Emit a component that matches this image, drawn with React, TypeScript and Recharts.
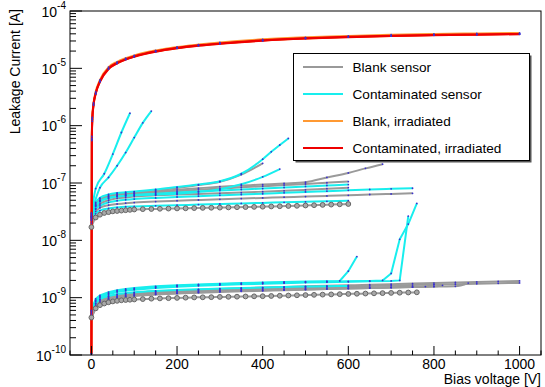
import React from "react";
import { LineChart, Line, XAxis, YAxis } from "recharts";

const FONT = '"Liberation Sans", Arial, Helvetica, sans-serif';

// ---- axis ticks ----
const xTicks = [-50, 0, 50, 100, 150, 200, 250, 300, 350, 400, 450, 500, 550, 600, 650, 700, 750, 800, 850, 900, 950, 1000, 1050];
const yDecades = [1e-10, 1e-9, 1e-8, 1e-7, 1e-6, 1e-5, 1e-4];
const yMinorMult = [2, 3, 4, 5, 6, 7, 8, 9];

// ---- legend ----
const legendLabels = ["Blank sensor", "Contaminated sensor", "Blank, irradiated", "Contaminated, irradiated"];
const legendColors = ["#999999", "#18eeee", "#ff9933", "#ee0000"];

// ---- irradiated sensors ----
const vIrr = [0, 1, 2, 5, 10, 20, 40, 60, 80, 100, 150, 200, 250, 300, 400, 500, 600, 700, 800, 900, 1000];
const iBlankIrr1 = [1.05e-10, 6.5e-7, 1.4e-6, 2.5e-6, 3.9e-6, 6.3e-6, 1.05e-5, 1.3e-5, 1.5e-5, 1.68e-5, 2.05e-5, 2.36e-5, 2.6e-5, 2.82e-5, 3.2e-5, 3.48e-5, 3.68e-5, 3.85e-5, 3.97e-5, 4.07e-5, 4.15e-5];
const iBlankIrr2 = [1.05e-10, 5.8e-7, 1.3e-6, 2.3e-6, 3.6e-6, 5.9e-6, 9.8e-6, 1.22e-5, 1.43e-5, 1.6e-5, 1.96e-5, 2.25e-5, 2.5e-5, 2.7e-5, 3.06e-5, 3.32e-5, 3.52e-5, 3.68e-5, 3.8e-5, 3.9e-5, 3.98e-5];
const iContIrr1 = [1.05e-10, 6e-7, 1.3e-6, 2.4e-6, 3.7e-6, 6.0e-6, 1.0e-5, 1.25e-5, 1.45e-5, 1.62e-5, 1.98e-5, 2.28e-5, 2.52e-5, 2.72e-5, 3.08e-5, 3.35e-5, 3.55e-5, 3.7e-5, 3.82e-5, 3.9e-5, 3.97e-5];
const iContIrr2 = [1.05e-10, 5.5e-7, 1.2e-6, 2.3e-6, 3.6e-6, 5.8e-6, 9.7e-6, 1.22e-5, 1.42e-5, 1.59e-5, 1.95e-5, 2.24e-5, 2.48e-5, 2.68e-5, 3.03e-5, 3.3e-5, 3.5e-5, 3.65e-5, 3.77e-5, 3.86e-5, 3.93e-5];

// ---- upper group (not irradiated) ----
const vCircUp = [0, 10, 20, 30, 40, 50, 60, 70, 80, 90, 100, 120, 140, 160, 180, 200, 220, 240, 260, 280, 300, 320, 340, 360, 380, 400, 420, 440, 460, 480, 500, 520, 540, 560, 580, 600];
const iCircUp = [1.7e-8, 2.5e-8, 2.8e-8, 3.0e-8, 3.1e-8, 3.2e-8, 3.25e-8, 3.3e-8, 3.35e-8, 3.4e-8, 3.45e-8, 3.5e-8, 3.52e-8, 3.55e-8, 3.58e-8, 3.6e-8, 3.62e-8, 3.65e-8, 3.68e-8, 3.7e-8, 3.72e-8, 3.75e-8, 3.78e-8, 3.8e-8, 3.83e-8, 3.86e-8, 3.9e-8, 3.93e-8, 3.97e-8, 4.0e-8, 4.05e-8, 4.1e-8, 4.15e-8, 4.2e-8, 4.25e-8, 4.3e-8];

const vUp = [0, 10, 20, 40, 60, 80, 100, 150, 200, 250, 300, 350, 400, 450, 500, 550, 600];
const vUpLong = [0, 10, 20, 40, 60, 80, 100, 150, 200, 250, 300, 350, 400, 450, 500, 550, 600, 650, 700, 750];
const iUpCyan1 = [2.0e-8, 2.9e-8, 3.3e-8, 3.6e-8, 3.75e-8, 3.85e-8, 3.9e-8, 4.0e-8, 4.1e-8, 4.2e-8, 4.3e-8, 4.4e-8, 4.5e-8, 4.6e-8, 4.7e-8, 4.8e-8, 4.9e-8];
const iUpGrayLong = [2.2e-8, 3.2e-8, 3.7e-8, 4.1e-8, 4.3e-8, 4.45e-8, 4.55e-8, 4.75e-8, 4.9e-8, 5.05e-8, 5.2e-8, 5.35e-8, 5.5e-8, 5.65e-8, 5.8e-8, 5.95e-8, 6.1e-8, 6.3e-8, 6.45e-8, 6.6e-8];
const iUpCyanLong = [2.4e-8, 3.5e-8, 4.0e-8, 4.6e-8, 4.9e-8, 5.1e-8, 5.25e-8, 5.5e-8, 5.7e-8, 5.9e-8, 6.1e-8, 6.3e-8, 6.5e-8, 6.75e-8, 7.0e-8, 7.2e-8, 7.45e-8, 7.7e-8, 7.9e-8, 8.1e-8];
const iUpGray1 = [2.3e-8, 3.6e-8, 4.3e-8, 5.0e-8, 5.4e-8, 5.6e-8, 5.8e-8, 6.1e-8, 6.3e-8, 6.45e-8, 6.6e-8, 6.8e-8, 7.05e-8, 7.3e-8, 7.6e-8, 7.95e-8, 8.3e-8];
const iUpCyan2 = [2.5e-8, 3.9e-8, 4.7e-8, 5.4e-8, 5.8e-8, 6.0e-8, 6.2e-8, 6.5e-8, 6.8e-8, 7.1e-8, 7.4e-8, 7.7e-8, 8.0e-8, 8.35e-8, 8.7e-8, 9.05e-8, 9.4e-8];
const iUpGray2 = [2.6e-8, 4.1e-8, 4.9e-8, 5.7e-8, 6.1e-8, 6.3e-8, 6.5e-8, 6.9e-8, 7.2e-8, 7.6e-8, 8.0e-8, 8.4e-8, 8.8e-8, 9.2e-8, 9.6e-8, 1.01e-7, 1.06e-7];

const vUpRise1 = [0, 10, 20, 40, 60, 80, 100, 150, 200, 250, 300, 350, 400, 450, 500, 550, 600, 640, 680];
const iUpRise1 = [2.6e-8, 4.2e-8, 5.0e-8, 5.8e-8, 6.2e-8, 6.4e-8, 6.6e-8, 7.1e-8, 7.6e-8, 8.1e-8, 8.6e-8, 9.0e-8, 9.4e-8, 9.8e-8, 1.03e-7, 1.25e-7, 1.5e-7, 1.8e-7, 2.13e-7];
const vUpRise2 = [0, 10, 20, 40, 60, 80, 100, 150, 200, 250, 300, 350, 400];
const iUpRise2 = [2.7e-8, 4.4e-8, 5.3e-8, 6.1e-8, 6.5e-8, 6.7e-8, 6.9e-8, 7.5e-8, 8.2e-8, 9.2e-8, 1.05e-7, 1.4e-7, 2.2e-7];
const vUpRise3 = [0, 10, 20, 40, 60, 80, 100, 150, 200, 250, 300, 350, 400, 440];
const iUpRise3 = [2.5e-8, 4.0e-8, 4.8e-8, 5.5e-8, 5.8e-8, 6.0e-8, 6.1e-8, 6.3e-8, 6.5e-8, 7.0e-8, 7.8e-8, 9.5e-8, 1.28e-7, 1.75e-7];
const vUpRise4 = [0, 10, 20, 40, 60, 80, 100, 150, 200, 250, 300, 350, 400, 420, 440, 460];
const iUpRise4 = [2.8e-8, 4.6e-8, 5.5e-8, 6.3e-8, 6.7e-8, 6.9e-8, 7.1e-8, 7.7e-8, 8.5e-8, 9.4e-8, 1.07e-7, 1.45e-7, 2.6e-7, 3.5e-7, 4.6e-7, 6.0e-7];
const vUpSteep1 = [0, 10, 30, 50, 70, 90];
const iUpSteep1 = [2.9e-8, 8.0e-8, 1.45e-7, 3.2e-7, 7.6e-7, 1.65e-6];
const vUpSteep2 = [0, 20, 40, 60, 80, 100, 120, 140];
const iUpSteep2 = [3.0e-8, 8.3e-8, 1.25e-7, 2.0e-7, 3.4e-7, 6.2e-7, 1.12e-6, 1.8e-6];

// ---- lower group (not irradiated) ----
const vCircLow = [0, 10, 20, 30, 40, 50, 60, 70, 80, 90, 100, 120, 140, 160, 180, 200, 220, 240, 260, 280, 300, 320, 340, 360, 380, 400, 420, 440, 460, 480, 500, 520, 540, 560, 580, 600, 620, 640, 660, 680, 700, 720, 740, 760];
const iCircLow = [4.5e-10, 6.5e-10, 7.4e-10, 7.9e-10, 8.3e-10, 8.6e-10, 8.8e-10, 9.0e-10, 9.1e-10, 9.2e-10, 9.3e-10, 9.45e-10, 9.6e-10, 9.7e-10, 9.8e-10, 9.9e-10, 1.0e-9, 1.01e-9, 1.015e-9, 1.02e-9, 1.03e-9, 1.035e-9, 1.04e-9, 1.05e-9, 1.055e-9, 1.06e-9, 1.07e-9, 1.08e-9, 1.09e-9, 1.1e-9, 1.11e-9, 1.12e-9, 1.13e-9, 1.14e-9, 1.15e-9, 1.16e-9, 1.17e-9, 1.18e-9, 1.19e-9, 1.2e-9, 1.21e-9, 1.22e-9, 1.23e-9, 1.24e-9];

const vLowBreak1 = [0, 10, 20, 40, 60, 80, 100, 150, 200, 250, 300, 350, 400, 450, 500, 550, 580, 600, 620];
const iLowBreak1 = [6.0e-10, 9.5e-10, 1.1e-9, 1.25e-9, 1.35e-9, 1.42e-9, 1.47e-9, 1.58e-9, 1.65e-9, 1.7e-9, 1.75e-9, 1.8e-9, 1.84e-9, 1.88e-9, 1.91e-9, 1.94e-9, 1.96e-9, 2.9e-9, 5.2e-9];
const vLowBreak2 = [0, 10, 20, 40, 60, 80, 100, 150, 200, 250, 300, 350, 400, 450, 500, 550, 600, 650, 680, 700, 720, 740, 760];
const iLowBreak2 = [5.8e-10, 9.0e-10, 1.05e-9, 1.2e-9, 1.3e-9, 1.37e-9, 1.42e-9, 1.52e-9, 1.6e-9, 1.66e-9, 1.71e-9, 1.76e-9, 1.8e-9, 1.84e-9, 1.87e-9, 1.9e-9, 1.93e-9, 1.96e-9, 2.0e-9, 2.65e-9, 1.04e-8, 1.92e-8, 4.4e-8];
const vLowBreak3 = [0, 10, 20, 40, 60, 80, 100, 150, 200, 250, 300, 350, 400, 450, 500, 550, 600, 650, 700, 720, 740];
const iLowBreak3 = [5.5e-10, 8.6e-10, 1.0e-9, 1.15e-9, 1.25e-9, 1.32e-9, 1.37e-9, 1.47e-9, 1.55e-9, 1.61e-9, 1.66e-9, 1.71e-9, 1.75e-9, 1.79e-9, 1.83e-9, 1.86e-9, 1.89e-9, 1.93e-9, 1.96e-9, 2.0e-9, 2.65e-8];
const vLowCyan = [0, 10, 20, 40, 60, 80, 100, 150, 200, 250, 300, 350, 400, 450, 500, 550, 600];
const iLowCyan = [5.2e-10, 8.0e-10, 9.4e-10, 1.07e-9, 1.15e-9, 1.2e-9, 1.24e-9, 1.31e-9, 1.36e-9, 1.4e-9, 1.44e-9, 1.47e-9, 1.5e-9, 1.53e-9, 1.56e-9, 1.58e-9, 1.6e-9];

const vLowLong = [0, 10, 20, 40, 60, 80, 100, 150, 200, 250, 300, 350, 400, 450, 500, 550, 600, 650, 700, 750, 800, 850, 900, 950, 1000];
const iLowGrayLong1 = [5.0e-10, 7.8e-10, 9.2e-10, 1.05e-9, 1.12e-9, 1.17e-9, 1.21e-9, 1.28e-9, 1.33e-9, 1.38e-9, 1.42e-9, 1.46e-9, 1.5e-9, 1.54e-9, 1.58e-9, 1.61e-9, 1.64e-9, 1.68e-9, 1.72e-9, 1.76e-9, 1.8e-9, 1.84e-9, 1.88e-9, 1.92e-9, 1.96e-9];
const iLowGrayLong2 = [4.8e-10, 7.4e-10, 8.8e-10, 1.0e-9, 1.07e-9, 1.12e-9, 1.16e-9, 1.23e-9, 1.28e-9, 1.32e-9, 1.36e-9, 1.4e-9, 1.44e-9, 1.48e-9, 1.51e-9, 1.54e-9, 1.57e-9, 1.6e-9, 1.63e-9, 1.66e-9, 1.69e-9, 1.72e-9, 1.75e-9, 1.78e-9, 1.81e-9];
const vLowGray1 = [0, 10, 20, 40, 60, 80, 100, 150, 200, 250, 300, 350, 400, 450, 500, 550, 600, 650, 700, 750, 780, 800];
const iLowGray1 = [4.6e-10, 7.0e-10, 8.4e-10, 9.6e-10, 1.03e-9, 1.08e-9, 1.12e-9, 1.18e-9, 1.23e-9, 1.27e-9, 1.31e-9, 1.34e-9, 1.37e-9, 1.4e-9, 1.43e-9, 1.46e-9, 1.48e-9, 1.5e-9, 1.52e-9, 1.54e-9, 1.56e-9, 1.68e-9];
const vLowGray2 = [0, 10, 20, 40, 60, 80, 100, 150, 200, 250, 300, 350, 400, 450, 500, 550, 600, 650, 700, 750, 800, 820];
const iLowGray2 = [4.4e-10, 6.8e-10, 8.1e-10, 9.3e-10, 1.0e-9, 1.05e-9, 1.09e-9, 1.15e-9, 1.2e-9, 1.24e-9, 1.28e-9, 1.31e-9, 1.34e-9, 1.37e-9, 1.4e-9, 1.42e-9, 1.45e-9, 1.47e-9, 1.5e-9, 1.53e-9, 1.56e-9, 1.64e-9];
const vLowGray3 = [0, 10, 20, 40, 60, 80, 100, 150, 200, 250, 300, 350, 400, 450, 500, 550, 600, 650, 700, 750, 800, 850, 880];
const iLowGray3 = [4.3e-10, 6.6e-10, 7.9e-10, 9.1e-10, 9.8e-10, 1.03e-9, 1.07e-9, 1.13e-9, 1.18e-9, 1.22e-9, 1.26e-9, 1.29e-9, 1.32e-9, 1.35e-9, 1.38e-9, 1.41e-9, 1.44e-9, 1.47e-9, 1.5e-9, 1.53e-9, 1.56e-9, 1.58e-9, 1.8e-9];

const GRAY = "#9a9a9a";
const CYAN = "#18eeee";
const ORANGE = "#ff9933";
const RED = "#ee0000";

type Series = { key: string; v: number[]; i: number[]; color: string; circles?: boolean; linear?: boolean };

const series: Series[] = [
  { key: "lg1", v: vLowLong, i: iLowGrayLong1, color: GRAY },
  { key: "lg2", v: vLowLong, i: iLowGrayLong2, color: GRAY },
  { key: "lg3", v: vLowGray1, i: iLowGray1, color: GRAY },
  { key: "lg4", v: vLowGray2, i: iLowGray2, color: GRAY },
  { key: "lg5", v: vLowGray3, i: iLowGray3, color: GRAY },
  { key: "ug1", v: vUpLong, i: iUpGrayLong, color: GRAY },
  { key: "ug2", v: vUp, i: iUpGray1, color: GRAY },
  { key: "ug3", v: vUp, i: iUpGray2, color: GRAY },
  { key: "ug4", v: vUpRise1, i: iUpRise1, color: GRAY },
  { key: "ug5", v: vUpRise2, i: iUpRise2, color: GRAY },
  { key: "lc1", v: vLowCyan, i: iLowCyan, color: CYAN },
  { key: "lc2", v: vLowBreak3, i: iLowBreak3, color: CYAN, linear: true },
  { key: "lc3", v: vLowBreak2, i: iLowBreak2, color: CYAN, linear: true },
  { key: "lc4", v: vLowBreak1, i: iLowBreak1, color: CYAN, linear: true },
  { key: "uc1", v: vUp, i: iUpCyan1, color: CYAN },
  { key: "uc2", v: vUpLong, i: iUpCyanLong, color: CYAN },
  { key: "uc3", v: vUp, i: iUpCyan2, color: CYAN },
  { key: "uc4", v: vUpRise3, i: iUpRise3, color: CYAN },
  { key: "uc5", v: vUpRise4, i: iUpRise4, color: CYAN },
  { key: "uc6", v: vUpSteep1, i: iUpSteep1, color: CYAN },
  { key: "uc7", v: vUpSteep2, i: iUpSteep2, color: CYAN },
  { key: "lcirc", v: vCircLow, i: iCircLow, color: GRAY, circles: true },
  { key: "ucirc", v: vCircUp, i: iCircUp, color: GRAY, circles: true },
  { key: "bi1", v: vIrr, i: iBlankIrr1, color: ORANGE },
  { key: "bi2", v: vIrr, i: iBlankIrr2, color: ORANGE },
  { key: "ci1", v: vIrr, i: iContIrr1, color: RED },
  { key: "ci2", v: vIrr, i: iContIrr2, color: RED },
];

const yTicks = yDecades.flatMap((d) => (d < 1e-4 ? [d, ...yMinorMult.map((m) => m * d)] : [d]));

function XTick(props: any) {
  const { x, y, payload } = props;
  const v = payload.value;
  const major = v % 200 === 0;
  return (
    <g>
      <line x1={x} x2={x} y1={y} y2={y - (major ? 9 : 4.5)} stroke="#000" strokeWidth={1} />
      {major && (
        <text x={x} y={y + 14} textAnchor="middle" fontSize={14} fontFamily={FONT} fill="#000">
          {v}
        </text>
      )}
    </g>
  );
}

function YTick(props: any) {
  const { x, y, payload } = props;
  const lg = Math.log10(payload.value);
  const major = Math.abs(lg - Math.round(lg)) < 1e-6;
  return (
    <g>
      <line x1={x} x2={x + (major ? 12 : 6)} y1={y} y2={y} stroke="#000" strokeWidth={1} />
      {major && (
        <text x={x - 4} y={y + 5.5} textAnchor="end" fontSize={14} fontFamily={FONT} fill="#000">
          <tspan>10</tspan>
          <tspan dy={-8} fontSize={10}>{"-" + Math.abs(Math.round(lg))}</tspan>
        </text>
      )}
    </g>
  );
}

export default function App() {
  const W = 545;
  const H = 387;
  const left = 70;
  const top = 11;
  const right = 4;
  const bottom = 32;

  return (
    <div style={{ position: "absolute", left: 0, top: 0, width: W, height: H, background: "#fff" }}>
      <LineChart width={W} height={H} margin={{ top, right, bottom: 0, left: 0 }}>
        <XAxis
          dataKey="x"
          type="number"
          domain={[-50, 1050]}
          ticks={xTicks}
          interval={0}
          allowDataOverflow
          axisLine={false}
          tickLine={false}
          tickSize={0}
          tickMargin={0}
          height={bottom}
          tick={(p: any) => <XTick {...p} />}
        />
        <YAxis
          type="number"
          scale="log"
          domain={[1e-10, 1e-4]}
          ticks={yTicks}
          interval={0}
          allowDataOverflow
          axisLine={false}
          tickLine={false}
          tickSize={0}
          tickMargin={0}
          width={left}
          tick={(p: any) => <YTick {...p} />}
        />
        {series.map((s) => (
          <Line
            key={s.key}
            data={s.v.map((v, k) => ({ x: v, [s.key]: s.i[k] }))}
            dataKey={s.key}
            type={s.linear ? "linear" : "monotone"}
            stroke={s.color}
            strokeWidth={2}
            dot={
              s.circles
                ? { r: 2.4, fill: "#a8a8a8", stroke: "#666666", strokeWidth: 1 }
                : { r: 0.9, fill: "#3a30d0", stroke: "none" }
            }
            activeDot={false}
            isAnimationActive={false}
          />
        ))}
      </LineChart>
      <svg
        width={W}
        height={H}
        style={{ position: "absolute", left: 0, top: 0, pointerEvents: "none" }}
      >
        <rect x={left} y={top} width={W - left - right} height={H - top - bottom} fill="none" stroke="#000" strokeWidth={1} />
        <text
          transform="translate(20, 9) rotate(-90)"
          textAnchor="end"
          fontSize={14}
          fontFamily={FONT}
          fill="#000"
        >
          Leakage Current [A]
        </text>
        <text x={541} y={384} textAnchor="end" fontSize={14} fontFamily={FONT} fill="#000">
          Bias voltage [V]
        </text>
        <rect x={295.5} y={55.5} width={236} height={107} fill="#555" />
        <rect x={293.5} y={53.5} width={236} height={107} fill="#fff" stroke="#000" strokeWidth={1} />
        {legendLabels.map((label, k) => (
          <g key={label}>
            <line x1={303} x2={343} y1={67 + k * 27} y2={67 + k * 27} stroke={legendColors[k]} strokeWidth={2} />
            <text x={352.5} y={72 + k * 27} fontSize={13.6} fontFamily={FONT} fill="#000">
              {label}
            </text>
          </g>
        ))}
      </svg>
    </div>
  );
}
